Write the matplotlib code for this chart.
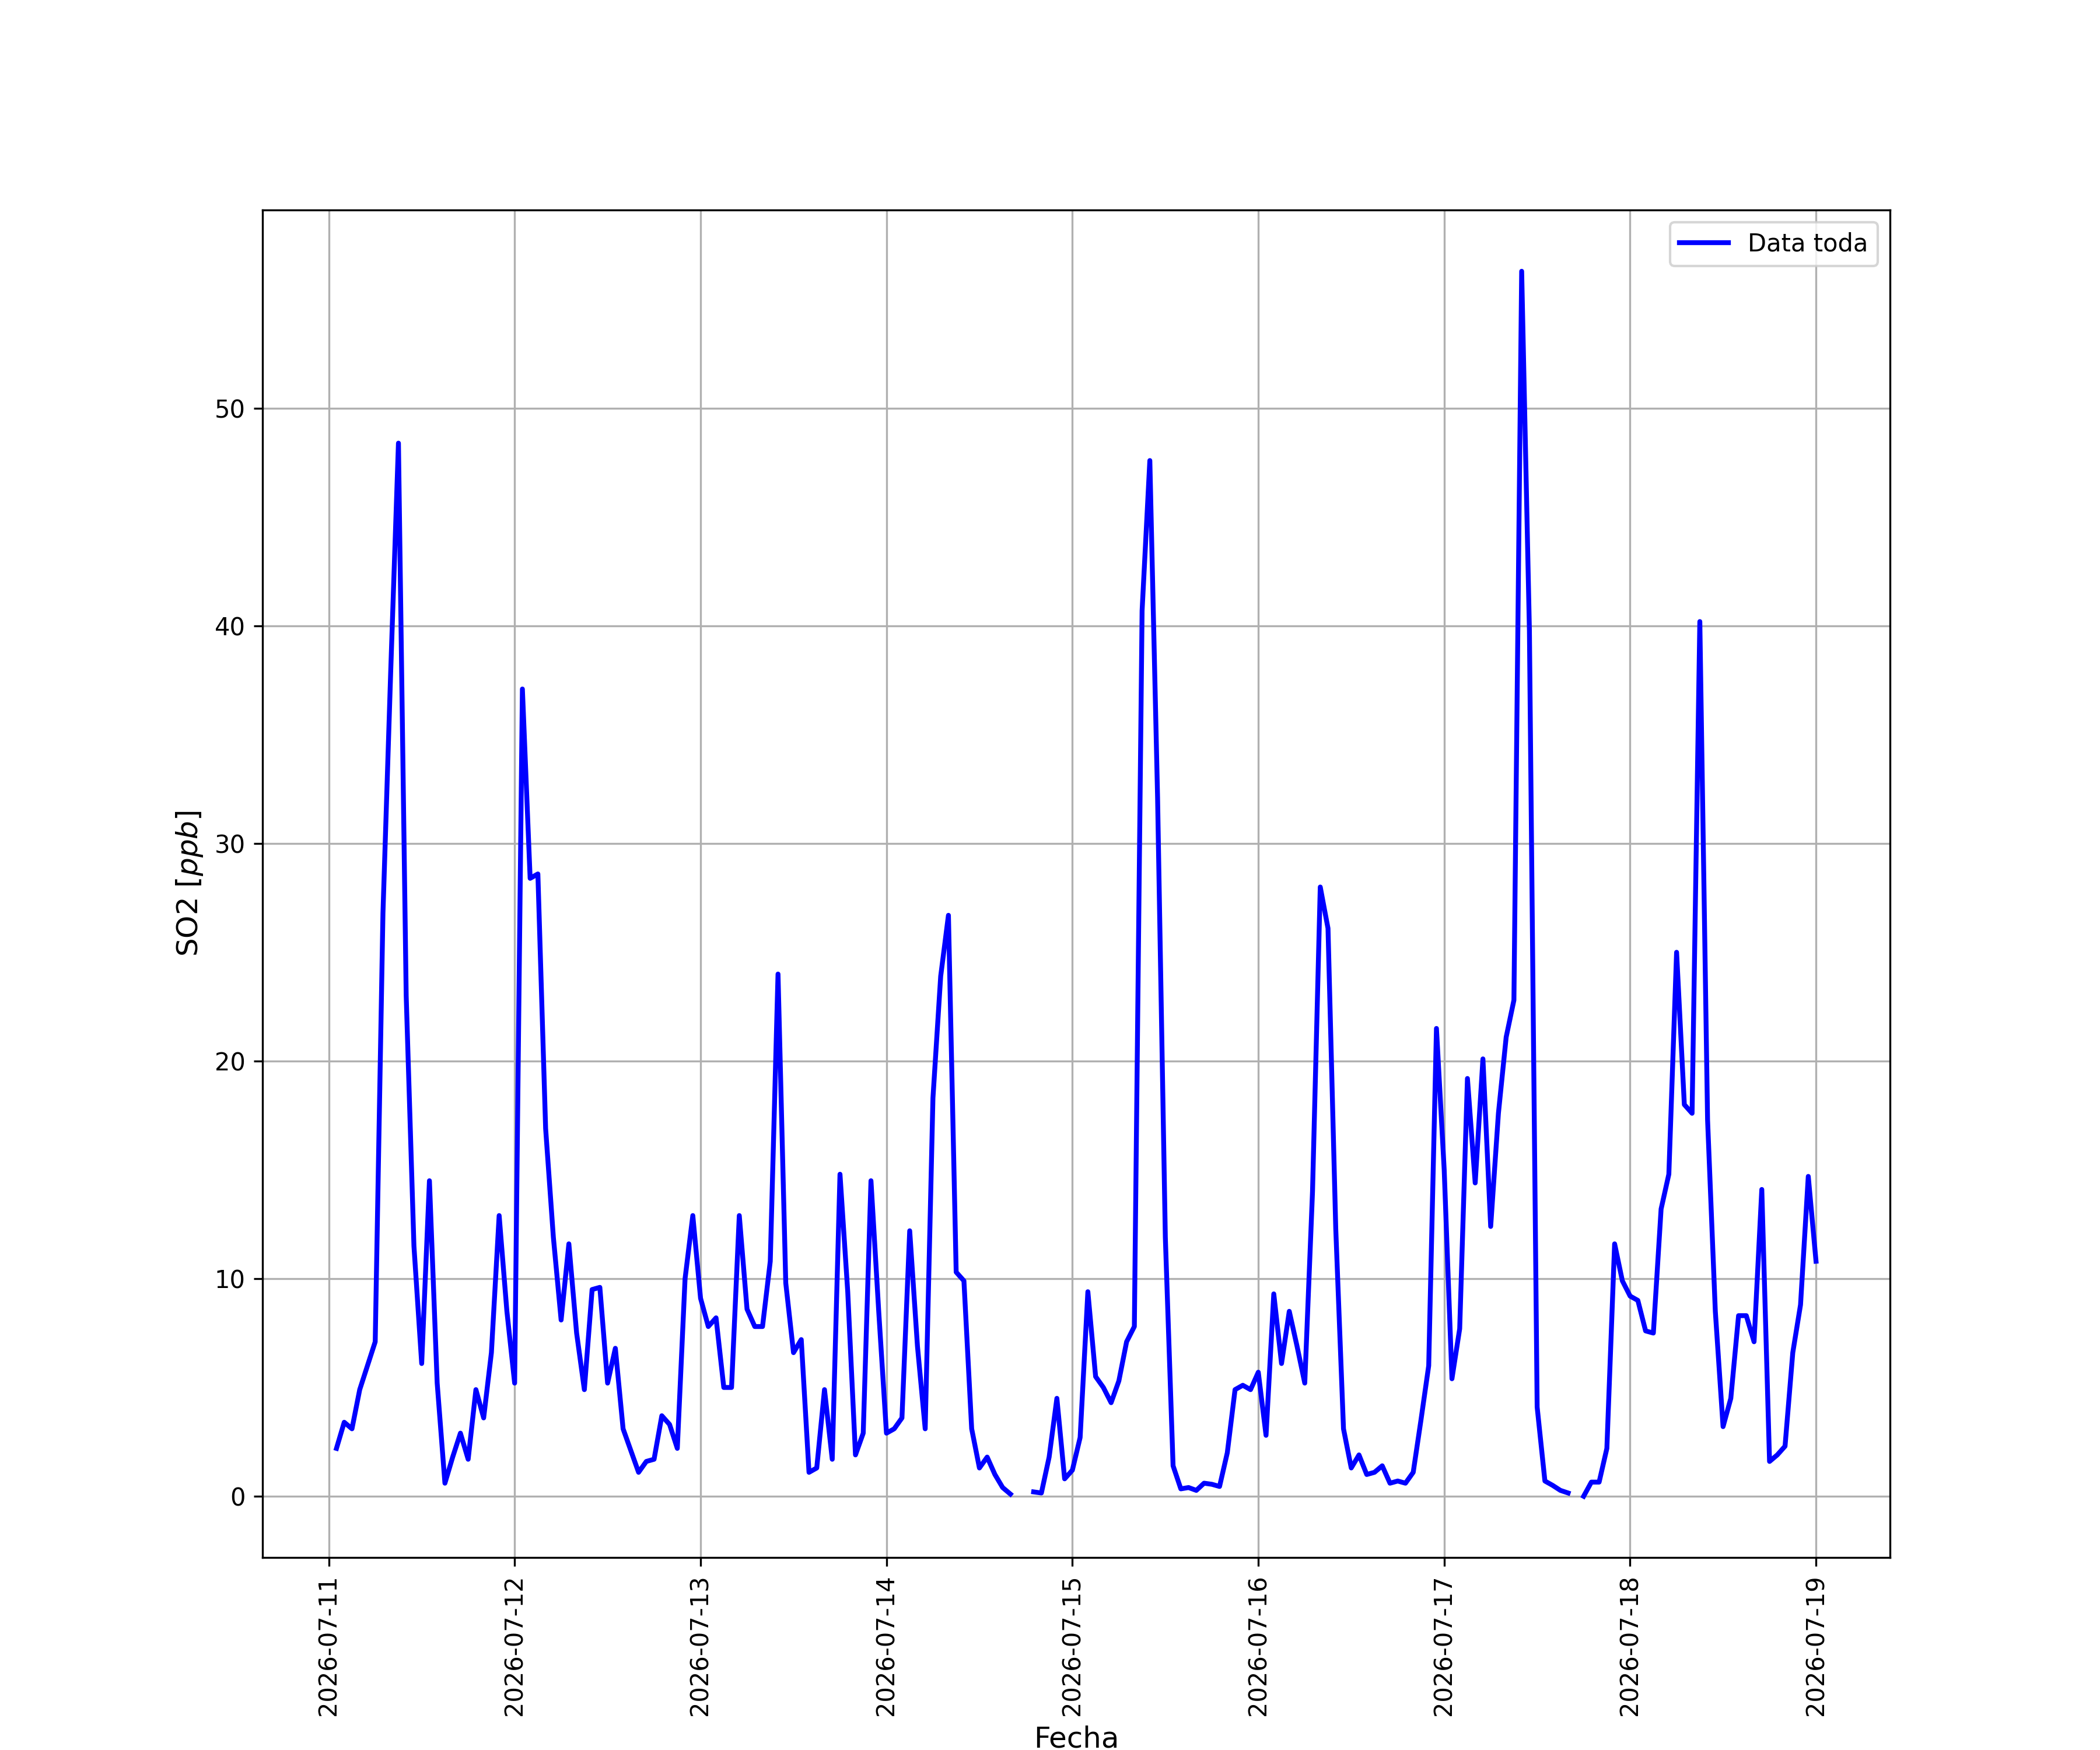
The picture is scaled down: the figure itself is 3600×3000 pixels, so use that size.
import numpy as np
import pandas as pd
import matplotlib
matplotlib.use('Agg')
import matplotlib.pyplot as plt
import matplotlib.dates as mdates

# SO2 horario [ppb], desde 2026-07-11 01:00 hasta 2026-07-19 00:00
so2_d11 = [2.2, 3.4, 3.1, 4.9, 6.0, 7.1, 26.8, 37.9, 48.4, 23.0, 11.5, 6.1,
           14.5, 5.2, 0.6, 1.8, 2.9, 1.7, 4.9, 3.6, 6.6, 12.9, 8.5]
so2_d12 = [5.2, 37.1, 28.4, 28.6, 16.9, 11.9, 8.1, 11.6, 7.5, 4.9, 9.5, 9.6,
           5.2, 6.8, 3.1, 2.1, 1.1, 1.6, 1.7, 3.7, 3.3, 2.2, 10.0, 12.9]
so2_d13 = [9.1, 7.8, 8.2, 5.0, 5.0, 12.9, 8.6, 7.8, 7.8, 10.8, 24.0, 9.8,
           6.6, 7.2, 1.1, 1.3, 4.9, 1.7, 14.8, 9.4, 1.9, 2.9, 14.5, 8.5]
so2_d14 = [2.9, 3.1, 3.6, 12.2, 6.9, 3.1, 18.3, 23.9, 26.7, 10.3, 9.9, 3.1,
           1.3, 1.8, 1.0, 0.4, 0.1, np.nan, np.nan, 0.2, 0.15, 1.8, 4.5, 0.8]
so2_d15 = [1.2, 2.7, 9.4, 5.5, 5.0, 4.3, 5.3, 7.1, 7.8, 40.7, 47.6, 32.1,
           11.9, 1.4, 0.34, 0.4, 0.27, 0.6, 0.55, 0.45, 2.0, 4.9, 5.1, 4.9]
so2_d16 = [5.7, 2.8, 9.3, 6.1, 8.5, 6.9, 5.2, 14.0, 28.0, 26.1, 12.3, 3.1,
           1.3, 1.9, 1.0, 1.1, 1.4, 0.6, 0.7, 0.6, 1.1, 3.5, 6.0, 21.5]
so2_d17 = [15.0, 5.4, 7.7, 19.2, 14.4, 20.1, 12.4, 17.6, 21.1, 22.8, 56.3, 39.8,
           4.1, 0.7, 0.5, 0.27, 0.15, np.nan, 0.0, 0.65, 0.65, 2.2, 11.6, 9.9]
so2_d18 = [9.2, 9.0, 7.6, 7.5, 13.2, 14.8, 25.0, 18.0, 17.6, 40.2, 17.3, 8.5,
           3.2, 4.5, 8.3, 8.3, 7.1, 14.1, 1.6, 1.9, 2.3, 6.6, 8.8, 14.7]
so2_d19 = [10.8]

so2 = np.array(so2_d11 + so2_d12 + so2_d13 + so2_d14 + so2_d15 +
               so2_d16 + so2_d17 + so2_d18 + so2_d19)
fechas = pd.date_range('2026-07-11 01:00', periods=len(so2), freq='h')

fig = plt.figure(figsize=(12, 10), dpi=300)
ax = fig.add_subplot(111)

ax.plot(fechas, so2, 'b-', lw=2, label='Data toda')

ax.xaxis.set_major_locator(mdates.DayLocator())
ax.xaxis.set_major_formatter(mdates.DateFormatter('%Y-%m-%d'))
plt.xticks(rotation=90)

plt.xlabel('Fecha', fontsize=12)
plt.ylabel('SO2 [$ppb$]', fontsize=12)
plt.grid(True)
plt.legend(loc='upper right')

plt.savefig('out.png', dpi=300)
